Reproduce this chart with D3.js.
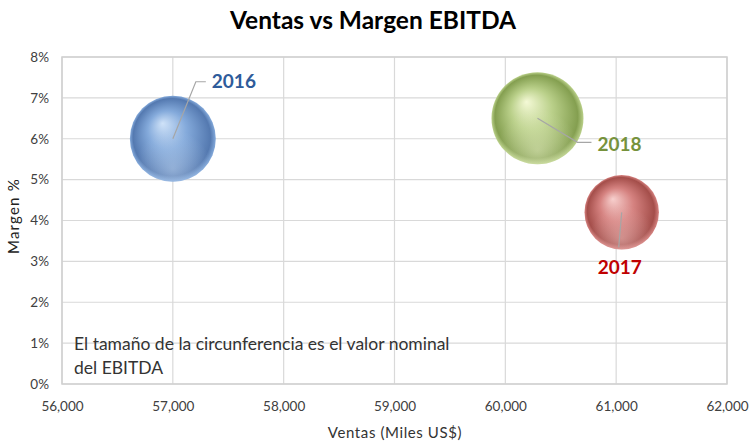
<!DOCTYPE html>
<html><head><meta charset="utf-8">
<script src="https://cdn.jsdelivr.net/npm/d3@7"></script>
<style>body{margin:0;background:#fff}svg{display:block;font-family:Lato,"Noto Sans",sans-serif}</style>
</head><body><svg id="c" width="756" height="448"></svg>
<script>
const years = ["2016","2017","2018"];
const ventas = [57000, 61050, 60290];
const margen = [0.060, 0.042, 0.065];
const ebitda = [3420, 2564, 3919];
const xTicks = [56000,57000,58000,59000,60000,61000,62000];
const yTicks = [0,0.01,0.02,0.03,0.04,0.05,0.06,0.07,0.08];
const labelColors = ["#2E5B9A","#C00000","#76923C"];
const palettes = [
  {hi:"#CFE2F8", mid:"#84AADB", edge:"#5479B0"},
  {hi:"#F7CFCD", mid:"#D58280", edge:"#A44E4A"},
  {hi:"#F4F9D6", mid:"#BAD08A", edge:"#849F50"}
];

const svg = d3.select("#c");
const L=62, R=727, T=57, B=384;
const x = d3.scaleLinear().domain([56000,62000]).range([L,R]);
const y = d3.scaleLinear().domain([0,0.08]).range([B,T]);
const r = d3.scaleSqrt().domain([0,3919]).range([0,46]);

const defs = svg.append("defs");
palettes.forEach((p,i)=>{
  const g = defs.append("radialGradient").attr("id","g"+i)
    .attr("cx","50%").attr("cy","50%").attr("r","50%").attr("fx","38%").attr("fy","32%");
  g.append("stop").attr("offset","0%").attr("stop-color",p.hi);
  g.append("stop").attr("offset","45%").attr("stop-color",p.mid);
  g.append("stop").attr("offset","90%").attr("stop-color",p.edge);
  g.append("stop").attr("offset","100%").attr("stop-color",p.mid);
  const s = defs.append("radialGradient").attr("id","s"+i)
    .attr("cx","50%").attr("cy","85%").attr("r","45%");
  s.append("stop").attr("offset","0%").attr("stop-color",p.hi).attr("stop-opacity",0.45);
  s.append("stop").attr("offset","100%").attr("stop-color",p.hi).attr("stop-opacity",0);
});

// title
svg.append("text").attr("x",373).attr("y",29).attr("text-anchor","middle")
  .attr("font-size",24.5).attr("font-weight","bold").attr("fill","#000")
  .text("Ventas vs Margen EBITDA");

// grid
const grid = svg.append("g");
grid.selectAll("line.h").data(yTicks).join("line")
  .attr("x1",L).attr("x2",R).attr("y1",d=>y(d)).attr("y2",d=>y(d))
  .attr("stroke","#D9D9D9").attr("stroke-width",1.2);
grid.selectAll("line.v").data(xTicks).join("line")
  .attr("y1",T).attr("y2",B).attr("x1",d=>x(d)).attr("x2",d=>x(d))
  .attr("stroke","#D9D9D9").attr("stroke-width",1.2);
svg.append("rect").attr("x",L).attr("y",T).attr("width",R-L).attr("height",B-T)
  .attr("fill","none").attr("stroke","#D0D0D0").attr("stroke-width",1.5);

// axes
const xa = svg.append("g").attr("transform",`translate(0,${B})`)
  .call(d3.axisBottom(x).tickValues(xTicks).tickFormat(d3.format(",")).tickSize(0).tickPadding(17));
const ya = svg.append("g").attr("transform",`translate(${L},0)`)
  .call(d3.axisLeft(y).tickValues(yTicks).tickFormat(d3.format(".0%")).tickSize(0).tickPadding(13));
[xa,ya].forEach(a=>{a.select(".domain").remove();
  a.selectAll("text").attr("font-size",13.5).attr("fill","#404040").attr("font-family","Lato,'Noto Sans',sans-serif");});

svg.append("text").attr("x",395).attr("y",438).attr("text-anchor","middle")
  .attr("font-size",15).attr("letter-spacing",0.6).attr("fill","#333").text("Ventas (Miles US$)");
svg.append("text").attr("transform","translate(19,216) rotate(-90)").attr("text-anchor","middle")
  .attr("font-size",15).attr("letter-spacing",1.2).attr("fill","#222").text("Margen %");

// note
const note = svg.append("text").attr("x",74).attr("font-size",17.5).attr("fill","#333");
note.append("tspan").attr("x",74).attr("y",350).text("El tamaño de la circunferencia es el valor nominal");
note.append("tspan").attr("x",74).attr("y",374).text("del EBITDA");

// bubbles
const data = years.map((yr,i)=>({yr,v:ventas[i],m:margen[i],e:ebitda[i],i}));
const bg = svg.append("g");
data.forEach(d=>{
  const cx=x(d.v), cy=y(d.m), rr=r(d.e);
  bg.append("circle").attr("cx",cx).attr("cy",cy).attr("r",rr).attr("fill",`url(#g${d.i})`);
  bg.append("circle").attr("cx",cx).attr("cy",cy).attr("r",rr).attr("fill",`url(#s${d.i})`);
});

// leader lines + labels
const lab = [
  {pts:[[0,0],[23,-57],[33,-57]], tx:39, ty:-57, anchor:"start"},
  {pts:[[0,0],[-3,35]], tx:-2, ty:55, anchor:"middle"},
  {pts:[[0,0],[40,24],[54,24]], tx:60, ty:26, anchor:"start"}
];
data.forEach(d=>{
  const cx=x(d.v), cy=y(d.m), l=lab[d.i];
  svg.append("polyline").attr("points",l.pts.map(p=>[cx+p[0],cy+p[1]].join(",")).join(" "))
    .attr("fill","none").attr("stroke","#A6A6A6").attr("stroke-width",1.2);
  svg.append("text").attr("x",cx+l.tx).attr("y",cy+l.ty).attr("dy","0.35em")
    .attr("text-anchor",l.anchor).attr("font-size",19).attr("font-weight","bold")
    .attr("fill",labelColors[d.i]).text(d.yr);
});
</script></body></html>
